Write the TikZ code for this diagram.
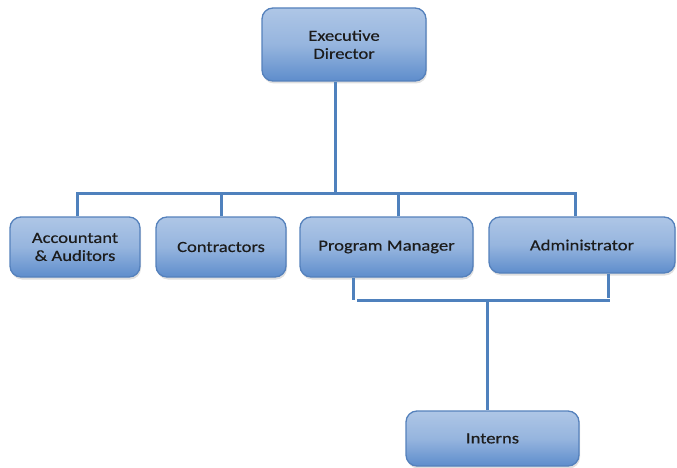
\documentclass[tikz,border=0pt]{standalone}
\usepackage{fontspec}
\setmainfont{Carlito}[FakeStretch=1.2,FakeBold=0.4]
\usetikzlibrary{shadows}
\definecolor{boxline}{HTML}{5581BC}
\definecolor{boxtop}{HTML}{AEC6E6}
\definecolor{boxbot}{HTML}{5E8DCC}
\definecolor{conn}{HTML}{4F81BD}
\definecolor{txt}{HTML}{1C1C1C}
\tikzset{
  orgbox/.style={draw=boxline, line width=1.3pt, rounded corners=11pt,
    top color=boxtop, bottom color=boxbot, middle color=boxtop!70!boxbot,
    drop shadow={opacity=0.25, shadow xshift=1pt, shadow yshift=-2.5pt},
    align=center, text=txt, inner sep=0pt,
    font=\fontsize{15.5}{18}\selectfont},
  link/.style={draw=conn, line width=3pt}
}
\begin{document}
\begin{tikzpicture}[x=1pt,y=-1pt]
\useasboundingbox (0,0) rectangle (677,468);
\node[orgbox, minimum width=164pt, minimum height=73pt] (ed) at (344,44.5) {Executive\\Director};
\node[orgbox, minimum width=130pt, minimum height=60pt] (acc) at (75,247) {Accountant\\\& Auditors};
\node[orgbox, minimum width=130pt, minimum height=60pt] (con) at (221,247) {Contractors};
\node[orgbox, minimum width=173pt, minimum height=60pt] (pm) at (386.5,247) {Program Manager};
\node[orgbox, minimum width=186pt, minimum height=56pt] (adm) at (582,245) {Administrator};
\node[orgbox, minimum width=173pt, minimum height=55pt] (int) at (492.5,438.5) {Interns};
\coordinate (bus) at (335,193);
\coordinate (busl) at (77,193);
\coordinate (busr) at (575,193);
\coordinate (low) at (487,300);
\draw[link] (ed.south -| bus) -- (bus);
\draw[link] (acc.north -| busl) |- (busr) -- (adm.north -| busr);
\draw[link] (con.north) -- (con.north |- bus);
\draw[link] (pm.north -| 398,0) -- (398,193);
\draw[link] (pm.south -| 353,0) -- (353,300);
\draw[link] (357,300) -- (610,300);
\draw[link] (adm.south -| 608,0) -- (608,298);
\draw[link] (low) -- (int.north -| low);
\end{tikzpicture}
\end{document}
